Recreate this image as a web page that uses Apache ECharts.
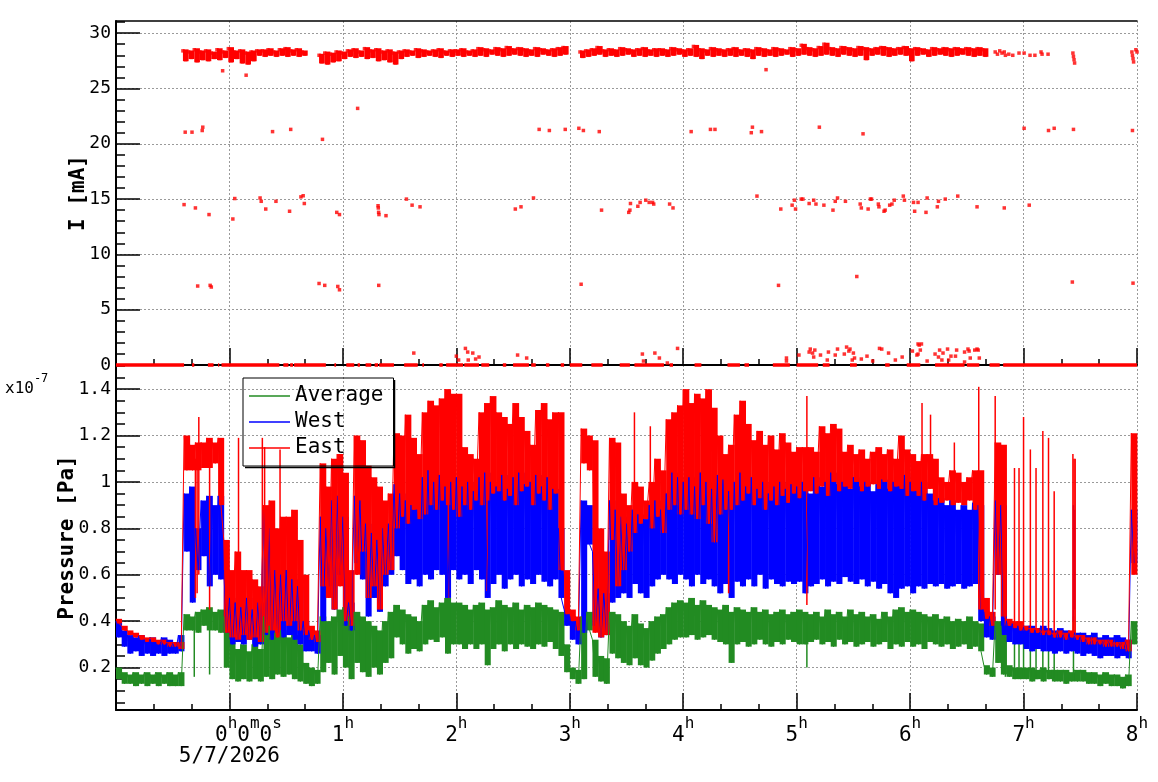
<!DOCTYPE html>
<html>
<head>
<meta charset="utf-8">
<script src="https://cdn.jsdelivr.net/npm/echarts@6/dist/echarts.min.js"></script>
<style>
  html, body { margin: 0; padding: 0; background: #fff; }
  #chart { width: 1158px; height: 782px; }
</style>
</head>
<body>
<div id="chart"></div>
<script>
// time axis in hours, 0h = 5/7/2026 00:00
var tStart = -1.0;
var binStep = 0.05;

// pressure (x1e-7 Pa), upper / lower envelope per 3-minute bin
var eastHi = [
  0.41,0.38,0.36,0.35,0.34,0.33,0.33,0.32,0.32,0.31, 0.31,0.31,1.20,1.16,1.17,1.17,1.19,1.17,1.19,0.75,
  0.62,0.70,0.62,0.62,0.58,0.55,0.90,0.92,0.80,0.85, 0.85,0.88,0.75,0.60,0.38,0.36,1.08,0.98,1.10,1.12,
  1.04,0.62,1.20,1.18,1.07,1.02,0.98,0.92,0.95,1.21, 1.20,1.29,1.19,1.12,1.30,1.35,1.33,1.36,1.40,1.38,
  1.38,1.15,1.12,1.10,1.30,1.34,1.37,1.30,1.28,1.25, 1.34,1.28,1.22,1.16,1.31,1.34,1.27,1.30,1.30,0.62,
  0.45,0.42,1.23,1.20,1.18,0.80,0.70,1.19,1.17,0.95, 0.90,1.00,0.98,0.92,1.00,1.10,1.05,1.27,1.30,1.33,
  1.40,1.34,1.38,1.36,1.40,1.32,1.20,1.12,1.16,1.29, 1.35,1.25,1.18,1.22,1.16,1.20,1.14,1.21,1.17,1.13,
  1.15,1.15,1.15,1.13,1.24,1.21,1.25,1.23,1.13,1.16, 1.12,1.14,1.10,1.13,1.15,1.12,1.14,1.10,1.20,1.14,
  1.12,1.09,1.12,1.12,1.10,1.02,1.00,1.05,1.04,1.00, 1.02,1.05,1.05,0.50,0.44,1.17,1.16,0.41,0.40,0.40,
  0.38,0.37,0.37,0.36,0.36,0.35,0.36,0.35,0.36,0.34, 0.34,0.33,0.33,0.32,0.32,0.32,0.31,0.31,0.32,1.21
];
var eastLo = [
  0.39,0.36,0.34,0.33,0.32,0.31,0.31,0.30,0.30,0.29, 0.29,0.28,1.05,1.05,1.05,1.06,1.06,1.08,0.90,0.35,
  0.33,0.32,0.34,0.32,0.33,0.31,0.35,0.36,0.33,0.40, 0.38,0.40,0.36,0.34,0.32,0.31,0.55,0.50,0.45,0.55,
  0.40,0.38,0.60,0.70,0.50,0.55,0.45,0.60,0.62,0.80, 0.85,0.82,0.88,0.84,0.86,0.90,0.88,0.92,0.90,0.88,
  0.85,0.90,0.88,0.92,0.90,0.92,0.95,0.96,0.92,0.94, 0.90,0.96,0.98,0.90,0.95,0.92,0.88,0.95,0.62,0.43,
  0.40,0.36,1.08,1.05,0.35,0.33,0.34,0.75,0.55,0.62, 0.70,0.78,0.82,0.84,0.80,0.85,0.78,0.88,0.90,0.86,
  0.88,0.86,0.84,0.90,0.82,0.74,0.86,0.88,0.88,0.90, 0.92,0.95,0.90,0.93,0.88,0.92,0.90,0.94,0.91,0.95,
  0.93,0.96,0.96,0.95,0.98,0.94,1.00,0.96,0.98,0.97, 1.00,0.96,0.98,0.99,0.97,1.00,0.96,0.98,0.97,0.94,
  0.96,0.94,0.92,0.97,0.90,0.91,0.92,0.90,0.91,0.90, 0.92,0.88,0.45,0.41,0.38,0.60,0.42,0.38,0.37,0.36,
  0.36,0.35,0.35,0.34,0.34,0.33,0.33,0.32,0.33,0.32, 0.31,0.30,0.30,0.30,0.29,0.29,0.29,0.28,0.27,0.60
];
// single narrow excursions [t, from, to]
var eastSpikes = [
  [-0.30,0.50,1.10],[-0.285,0.52,1.10],[-0.27,0.60,1.28],[-0.175,0.45,1.10],
  [0.08,0.40,1.19],[0.29,0.45,1.19],[0.31,0.50,1.15],[0.446,0.50,1.14],
  [1.93,0.50,1.00],[2.27,0.53,1.00],[3.57,0.90,1.30],[3.71,0.90,1.24],[4.40,0.52,1.00],
  [5.09,0.47,1.37],[6.105,1.00,1.34],[6.18,1.00,1.29],[6.39,1.00,1.17],
  [6.605,0.50,1.41],[6.75,0.45,1.37],[6.84,0.38,1.06],[6.92,0.38,1.06],[6.96,0.37,1.06],
  [7.0,0.36,1.28],[7.06,0.35,1.14],[7.11,0.35,1.06],[7.17,0.34,1.22],[7.22,0.34,1.19],[7.27,0.33,0.96],
  [7.435,0.33,1.12],[7.445,0.33,1.10],[7.455,0.33,1.10]
];
var westHi = [
  0.40,0.36,0.34,0.33,0.34,0.32,0.33,0.31,0.33,0.32, 0.31,0.34,0.95,0.98,0.80,0.92,0.94,0.90,0.94,0.62,
  0.50,0.48,0.46,0.50,0.45,0.48,0.88,0.80,0.62,0.60, 0.62,0.58,0.55,0.40,0.36,0.34,0.85,0.80,0.92,0.94,
  0.85,0.48,0.94,0.92,0.82,0.78,0.75,0.80,0.82,0.99, 0.95,0.92,0.90,0.88,1.02,1.05,1.00,1.03,0.98,1.00,
  1.02,0.98,1.00,0.96,1.02,1.04,1.00,0.98,1.03,0.97, 1.02,1.04,0.99,1.00,1.03,0.98,1.02,0.97,0.80,0.45,
  0.42,0.40,0.92,0.90,0.70,0.54,0.52,0.92,0.88,0.85, 0.82,0.88,0.86,0.84,0.90,0.92,0.88,0.95,1.04,1.02,
  1.00,1.02,0.98,1.04,1.00,0.97,1.03,1.01,0.96,1.00, 1.04,0.98,1.02,0.97,1.00,0.95,0.98,1.00,0.97,0.99,
  0.98,1.00,0.95,1.02,0.98,1.00,1.04,0.99,1.00,0.97, 1.02,0.98,1.00,0.96,0.99,1.01,0.97,1.00,0.98,1.03,
  1.00,0.96,1.00,0.95,0.92,0.93,0.90,0.92,0.88,0.90, 0.88,0.91,0.90,0.44,0.42,0.92,0.90,0.40,0.39,0.38,
  0.38,0.38,0.37,0.38,0.37,0.36,0.37,0.36,0.35,0.35, 0.35,0.34,0.35,0.33,0.34,0.33,0.34,0.33,0.32,0.88
];
var westLo = [
  0.33,0.29,0.26,0.27,0.25,0.26,0.25,0.26,0.25,0.26, 0.26,0.27,0.70,0.48,0.62,0.68,0.55,0.60,0.58,0.35,
  0.30,0.31,0.30,0.32,0.29,0.30,0.34,0.32,0.35,0.33, 0.34,0.32,0.30,0.27,0.27,0.26,0.40,0.55,0.45,0.60,
  0.38,0.36,0.65,0.58,0.42,0.50,0.44,0.55,0.60,0.68, 0.62,0.56,0.58,0.55,0.60,0.58,0.62,0.60,0.50,0.62,
  0.58,0.60,0.56,0.62,0.58,0.50,0.56,0.60,0.54,0.58, 0.60,0.55,0.58,0.56,0.60,0.57,0.55,0.58,0.50,0.38,
  0.32,0.30,0.35,0.73,0.38,0.33,0.34,0.48,0.50,0.52, 0.50,0.56,0.52,0.50,0.55,0.58,0.60,0.58,0.56,0.60,
  0.58,0.55,0.60,0.56,0.58,0.55,0.52,0.56,0.50,0.57, 0.55,0.58,0.55,0.60,0.54,0.58,0.56,0.55,0.57,0.56,
  0.57,0.52,0.55,0.56,0.58,0.55,0.57,0.56,0.59,0.57, 0.56,0.58,0.55,0.57,0.54,0.56,0.52,0.50,0.54,0.55,
  0.52,0.55,0.54,0.56,0.55,0.56,0.54,0.55,0.56,0.54, 0.55,0.56,0.40,0.33,0.32,0.60,0.34,0.31,0.30,0.30,
  0.28,0.27,0.28,0.27,0.27,0.26,0.27,0.26,0.27,0.26, 0.25,0.26,0.25,0.24,0.25,0.25,0.24,0.25,0.24,0.65
];
var westSpikes = [[7.44,0.40,0.90],[7.45,0.45,0.88]];
var avgHi = [
  0.20,0.18,0.17,0.18,0.17,0.18,0.17,0.18,0.17,0.18, 0.17,0.18,0.43,0.42,0.44,0.45,0.46,0.44,0.45,0.42,
  0.32,0.28,0.30,0.27,0.30,0.28,0.42,0.38,0.35,0.36, 0.33,0.34,0.30,0.22,0.20,0.19,0.42,0.40,0.42,0.45,
  0.46,0.42,0.44,0.42,0.40,0.38,0.36,0.40,0.44,0.47, 0.45,0.43,0.42,0.40,0.47,0.49,0.46,0.48,0.50,0.48,
  0.48,0.47,0.45,0.47,0.48,0.45,0.46,0.49,0.47,0.46, 0.48,0.45,0.47,0.46,0.48,0.47,0.46,0.45,0.44,0.30,
  0.20,0.19,0.42,0.44,0.32,0.25,0.24,0.44,0.43,0.40, 0.38,0.43,0.39,0.37,0.40,0.42,0.43,0.46,0.48,0.49,
  0.48,0.50,0.47,0.49,0.47,0.46,0.45,0.47,0.44,0.46, 0.45,0.44,0.46,0.44,0.45,0.43,0.44,0.45,0.43,0.44,
  0.45,0.44,0.43,0.44,0.42,0.45,0.43,0.44,0.42,0.45, 0.43,0.44,0.42,0.43,0.41,0.44,0.42,0.45,0.46,0.44,
  0.45,0.44,0.43,0.42,0.43,0.41,0.42,0.40,0.41,0.40, 0.42,0.40,0.39,0.21,0.20,0.40,0.38,0.21,0.20,0.20,
  0.20,0.20,0.19,0.20,0.19,0.19,0.19,0.19,0.18,0.19, 0.19,0.18,0.18,0.17,0.18,0.17,0.17,0.16,0.17,0.40
];
var avgLo = [
  0.15,0.13,0.13,0.12,0.13,0.12,0.13,0.12,0.13,0.12, 0.12,0.12,0.36,0.36,0.35,0.38,0.36,0.36,0.35,0.20,
  0.15,0.14,0.15,0.14,0.15,0.14,0.16,0.15,0.17,0.16, 0.17,0.15,0.14,0.13,0.12,0.13,0.18,0.22,0.17,0.25,
  0.20,0.15,0.22,0.18,0.16,0.20,0.17,0.22,0.24,0.33, 0.30,0.26,0.28,0.27,0.30,0.32,0.31,0.33,0.26,0.30,
  0.30,0.28,0.30,0.28,0.30,0.21,0.28,0.30,0.27,0.30, 0.28,0.30,0.29,0.28,0.30,0.29,0.31,0.28,0.25,0.18,
  0.15,0.13,0.15,0.36,0.16,0.14,0.13,0.26,0.24,0.22, 0.21,0.24,0.21,0.20,0.23,0.26,0.28,0.30,0.32,0.33,
  0.33,0.34,0.32,0.33,0.34,0.32,0.31,0.30,0.22,0.30, 0.31,0.29,0.30,0.32,0.30,0.29,0.31,0.30,0.32,0.31,
  0.30,0.30,0.31,0.32,0.30,0.31,0.29,0.32,0.30,0.31, 0.29,0.30,0.31,0.29,0.30,0.31,0.28,0.30,0.29,0.31,
  0.29,0.30,0.28,0.31,0.30,0.29,0.30,0.28,0.29,0.30, 0.28,0.29,0.27,0.17,0.16,0.22,0.17,0.16,0.15,0.15,
  0.15,0.14,0.15,0.14,0.15,0.14,0.14,0.13,0.14,0.14, 0.14,0.13,0.13,0.12,0.13,0.12,0.12,0.11,0.12,0.30
];
var avgSpikes = [
  [-0.31,0.16,0.40],[-0.175,0.17,0.40],[5.09,0.20,0.40],
  [6.84,0.16,0.35],[6.92,0.16,0.33],[6.96,0.16,0.34],[7.0,0.16,0.36],[7.06,0.16,0.34],
  [7.11,0.15,0.32],[7.17,0.15,0.36],[7.22,0.15,0.34],[7.27,0.15,0.30],[7.44,0.15,0.42]
];

// beam current (mA): main ~28 mA band, per 3-minute bin, null = no beam
var bandStart = -0.41;
var bandHi = [
  28.4,28.3,28.5,28.3,28.4,28.2,28.5,28.3, 28.6,28.3,28.4,28.2,28.3, 28.4,
  28.4,28.5,28.3,28.5,28.6,28.4,28.5,28.3, null,null,
  28.0,28.2,28.1,28.3,28.2, 28.4,28.5,28.3,28.6,28.4,28.5,28.3,28.4,28.2,28.3,
  28.4,28.3,28.5,28.4,28.3,28.4,28.5,28.3,28.4,28.4, 28.5,28.3,28.4,28.6,28.5,28.4,28.6,28.5,28.7,28.5,
  28.6,28.5,28.4,28.6,28.5,28.4,28.5,28.6,28.7, null,null,
  28.3,28.4,28.5,28.7,
  28.4,28.5,28.4,28.6,28.5,28.4,28.5,28.6,28.4,28.5,
  28.5,28.4,28.6,28.5,28.4,28.5,28.8,28.5,28.4,28.6,
  28.5,28.4,28.5,28.6,28.4,28.5,28.4,28.6,28.5,28.4,
  28.6,28.5,28.4,28.6,28.5,28.9,28.6,28.5,28.7,29.0,
  28.6,28.5,28.7,28.6,28.5,28.7,28.6,28.5,28.6,28.7,
  28.6,28.5,28.6,28.7,28.5,28.6,28.5,28.4,28.6,28.5,
  28.6,28.5,28.6,28.5,28.6,28.5,28.6,28.5
];
var bandLo = [
  27.6,27.8,27.5,27.7,27.6,27.8,27.7,27.9, 27.5,27.8,27.4,27.3,27.6, 28.1,
  28.0,28.1,28.0,28.1,28.0,28.1,28.0,28.1, null,null,
  27.4,27.3,27.5,27.6,27.8, 28.0,27.9,28.0,27.8,27.9,27.6,27.7,27.5,27.3,27.8,
  28.0,28.1,27.9,28.0,28.1,28.0,27.9,28.1,28.0,28.1, 28.0,28.1,28.0,28.1,28.0,28.2,28.1,28.0,28.1,28.2,
  28.1,28.0,28.1,28.0,28.2,28.1,28.0,28.1,28.2, null,null,
  27.9,28.0,28.1,28.2,
  28.0,28.1,28.0,28.1,28.2,28.0,28.1,28.0,28.1,28.0,
  28.1,28.0,28.1,28.2,28.0,28.1,28.0,27.8,28.1,28.0,
  28.1,28.0,28.1,28.0,28.1,28.0,27.8,28.1,28.0,28.1,
  28.0,28.1,28.2,28.0,28.1,28.2,28.1,28.0,28.1,28.2,
  28.1,28.0,28.2,28.1,28.0,28.1,27.7,28.1,28.2,28.1,
  28.0,28.1,28.2,28.1,27.6,28.1,28.2,28.0,28.1,28.2,
  28.1,28.0,28.1,28.2,28.1,28.0,28.1,28.0
];

// isolated current readings [t (h), I (mA)]
var currentPoints = [
  [0.147,26.2],[-0.06,26.6],[1.13,23.2],[4.73,26.7],
  [-0.39,21.05],[-0.33,21.05],[-0.24,21.2],[-0.235,21.5],[0.38,21.1],[0.54,21.3],[0.82,20.4],
  [2.73,21.3],[2.82,21.2],[2.96,21.3],[3.08,21.4],[3.12,21.2],[3.26,21.1],[4.07,21.1],[4.24,21.3],
  [4.28,21.3],[4.60,21.0],[4.61,21.5],[4.69,21.1],[5.20,21.5],[5.585,20.9],[7.005,21.4],[7.22,21.2],
  [7.27,21.4],[7.44,21.3],[7.96,21.2],
  [-0.40,14.5],[-0.30,14.2],[-0.18,13.6],[0.03,13.2],[0.047,15.05],[0.27,15.1],[0.28,14.8],[0.32,14.1],
  [0.41,14.8],[0.53,13.9],[0.63,15.2],[0.65,15.3],[0.66,14.6],[0.946,13.8],[0.97,13.6],[1.31,14.4],
  [1.312,14.2],[1.315,13.8],[1.318,13.6],[1.38,13.5],[1.56,15.0],[1.61,14.45],[1.68,14.3],[2.52,14.1],
  [2.57,14.3],[2.68,15.1],[3.28,14.0],[3.52,13.8],[3.53,14.0],[3.535,14.6],[3.60,14.35],[3.62,14.7],
  [3.67,14.9],[3.70,14.7],[3.73,14.7],[3.74,14.55],[3.88,14.55],[3.91,14.2],[4.65,15.27],
  [4.86,14.1],[4.96,14.45],[4.98,14.9],[4.99,14.1],[5.04,15.0],[5.055,15.0],[5.11,14.6],[5.15,14.9],
  [5.17,14.55],[5.24,14.45],[5.32,14.0],[5.34,14.8],[5.36,15.1],[5.43,14.8],[5.56,14.55],[5.57,14.2],
  [5.63,14.1],[5.65,15.0],[5.66,15.0],[5.72,14.55],[5.725,14.3],[5.77,13.9],[5.78,14.0],[5.82,14.45],
  [5.84,14.55],[5.86,14.9],[5.94,15.27],[5.95,14.9],[6.03,14.7],[6.04,13.9],[6.07,14.7],[6.14,13.8],
  [6.15,15.1],[6.24,14.3],[6.25,14.8],[6.31,15.0],[6.42,15.27],[6.59,14.3],[6.83,14.2],[7.05,14.45],
  [-0.28,7.14],[-0.17,7.2],[-0.16,7.05],[0.79,7.37],[0.84,7.2],[0.955,7.1],[0.97,6.8],[1.316,7.2],
  [3.10,7.3],[4.84,7.2],[5.53,8.0],[7.43,7.5],[7.965,7.4],
  [1.625,1.08],[2.0,0.8],[2.02,0.45],[2.08,1.5],[2.10,1.17],[2.105,0.45],[2.145,1.08],[2.17,0.54],
  [2.20,0.72],[2.54,0.9],[2.62,0.63],[3.64,0.99],[3.65,0.36],[3.75,1.08],[3.79,0.63],[3.86,0.18],
  [3.95,1.5],[4.91,0.63],[4.91,0.36],[5.02,0.9],[5.12,1.44],[5.11,1.17],[5.14,1.08],[5.16,1.35],
  [5.15,0.72],[5.21,0.9],[5.28,1.17],[5.27,0.45],[5.34,0.9],[5.36,1.44],[5.42,0.99],[5.44,1.62],
  [5.46,1.26],[5.47,1.44],[5.50,1.08],[5.49,0.45],[5.51,0.63],[5.57,0.54],[5.62,0.8],[5.67,0.36],
  [5.73,1.5],[5.75,1.44],[5.81,1.08],[5.87,0.45],[5.93,0.72],[6.02,1.26],[6.07,1.9],[6.10,1.9],
  [6.08,1.8],[6.06,0.9],[6.07,0.99],[6.09,1.35],[6.15,0.36],[6.22,0.99],[6.26,1.35],[6.29,1.08],
  [6.25,0.72],[6.28,0.45],[6.33,1.44],[6.34,0.45],[6.36,0.8],[6.40,0.8],[6.41,1.35],[6.48,1.17],
  [6.48,0.27],[6.51,1.44],[6.52,1.26],[6.53,0.63],[6.57,1.35],[6.59,1.44],[6.60,1.35],[6.61,0.63],
  [6.75,28.3],[6.77,28.1],[6.79,28.4],[6.81,28.2],[6.83,28.3],[6.84,28.0],[6.87,28.1],[6.905,28.0],
  [6.96,28.2],[7.005,28.2],[7.057,28.0],[7.10,28.0],[7.154,28.3],[7.163,28.1],[7.216,28.1],
  [7.435,28.2],[7.44,27.9],[7.445,27.6],[7.45,27.3],[7.955,28.3],[7.96,28.0],[7.965,27.7],[7.97,27.4],
  [7.99,28.5],[8.0,28.3]
];

// stretches where the current read 0 mA [from, to] (h)
var zeroRuns = [
  [-1.0,-0.40],[-0.33,-0.31],[-0.19,-0.14],[-0.10,-0.09],[-0.07,0.44],[0.475,0.52],[0.535,0.56],
  [0.57,0.85],[0.925,0.94],[1.03,1.10],[1.13,1.15],[1.20,1.25],[1.28,1.31],[1.32,1.45],[1.54,1.66],
  [1.70,1.715],[1.85,1.88],[1.91,2.06],[2.07,2.20],[2.22,2.29],[2.41,2.44],[2.50,2.64],[2.66,2.70],
  [2.79,2.82],[2.92,2.95],[3.0,3.11],[3.19,3.29],[3.44,3.53],[3.57,3.83],[3.88,3.91],[4.10,4.16],
  [4.39,4.50],[4.54,4.58],[4.79,4.94],[5.0,5.19],[5.23,5.29],[5.47,5.53],[5.78,5.82],[5.97,6.09],
  [6.22,6.48],[6.50,6.61],[6.70,6.79],[6.82,8.0]
];

var currentTicks = [0, 5, 10, 15, 20, 25, 30];
var currentMinorTicks = [1,2,3,4,6,7,8,9,11,12,13,14,16,17,18,19,21,22,23,24,26,27,28,29,31];
var pressureTicks = [0.2, 0.4, 0.6, 0.8, 1, 1.2, 1.4];
var pressureMinorTicks = [0.05,0.1,0.15,0.25,0.3,0.35,0.45,0.5,0.55,0.65,0.7,0.75,0.85,0.9,0.95,
  1.05,1.1,1.15,1.25,1.3,1.35,1.45,1.5];

var mono = 'DejaVu Sans Mono';

// zig-zag through each bin: top of the bin, then its bottom
function envelope(hi, lo) {
  var out = [];
  for (var i = 0; i < hi.length; i++) {
    var t = tStart + i * binStep;
    out.push([t, hi[i]]);
    out.push([t + binStep / 2, lo[i]]);
  }
  return out;
}

// [t, lo, hi] per bin
function binRanges(hi, lo, start) {
  var out = [];
  for (var i = 0; i < hi.length; i++) {
    if (hi[i] == null) continue;
    out.push([start + i * binStep, lo[i], hi[i]]);
  }
  return out;
}

function bandPoints() {
  var out = [];
  for (var k = 0; k < bandHi.length; k++) {
    if (bandHi[k] == null) continue;
    var t = bandStart + k * binStep;
    out.push([t, bandHi[k]]);
    out.push([t + binStep / 2, bandLo[k]]);
  }
  return out;
}

function zeroLine() {
  var out = [];
  for (var i = 0; i < zeroRuns.length; i++) {
    out.push([zeroRuns[i][0], 0]);
    out.push([zeroRuns[i][1], 0]);
    out.push([zeroRuns[i][1] + 0.001, '-']);
  }
  return out;
}

// filled block spanning one bin, from its lowest to its highest reading
function renderBin(params, api) {
  var t = api.value(0);
  var a = api.coord([t, api.value(2)]);
  var b = api.coord([t + binStep, api.value(1)]);
  return {
    type: 'rect',
    shape: { x: a[0], y: a[1], width: b[0] - a[0] + 0.4, height: Math.max(1, b[1] - a[1]) },
    style: { fill: api.visual('color') }
  };
}

// thin vertical excursion
function renderSpike(params, api) {
  var top = api.coord([api.value(0), api.value(2)]);
  var bottom = api.coord([api.value(0), api.value(1)]);
  return {
    type: 'rect',
    shape: { x: top[0] - 0.75, y: top[1], width: 1.5, height: bottom[1] - top[1] },
    style: { fill: api.visual('color') }
  };
}

function renderRibbon(params, api) {
  var t = api.value(0);
  var a = api.coord([t, api.value(2)]);
  var b = api.coord([t + binStep, api.value(1)]);
  return {
    type: 'rect',
    shape: { x: a[0], y: a[1] - 1.5, width: b[0] - a[0], height: b[1] - a[1] + 3 },
    style: { fill: api.visual('color') }
  };
}

var gridLine = { show: true, lineStyle: { color: '#9a9a9a', type: [2, 2], width: 1 } };
var blackLine = { color: '#000', width: 2 };

function timeAxis(gridIndex, withLabels) {
  return {
    gridIndex: gridIndex,
    type: 'value',
    min: -1,
    max: 8,
    interval: 1,
    axisLine: { onZero: false, lineStyle: blackLine },
    axisTick: { inside: true, length: 17, lineStyle: { color: '#000', width: 1.5 } },
    minorTick: { show: true, splitNumber: 3, length: 6, lineStyle: { color: '#000', width: 1.5 } },
    splitLine: gridLine,
    axisLabel: withLabels ? {
      margin: 6,
      color: '#000',
      formatter: function (v) {
        if (v < 0) return '';
        if (v === 0) return '{p|}{n|0}{s|h}{n|0}{s|m}{n|0}{s|s}\n{d|5/7/2026}';
        return '{n|' + v + '}{s|h}';
      },
      rich: {
        n: { fontFamily: mono, fontSize: 21, color: '#000', lineHeight: 30, verticalAlign: 'bottom' },
        s: { fontFamily: mono, fontSize: 16, color: '#000', lineHeight: 18, verticalAlign: 'top' },
        d: { fontFamily: mono, fontSize: 21, color: '#000', lineHeight: 20, verticalAlign: 'top' },
        p: { width: 38 }
      }
    } : { show: false }
  };
}

function valueAxes(gridIndex, min, max, ticks, minor, name, gap) {
  return [{
    gridIndex: gridIndex,
    type: 'value',
    position: 'left',
    min: min,
    max: max,
    name: name,
    nameLocation: 'middle',
    nameGap: gap,
    nameMoveOverlap: false,
    nameTextStyle: { fontFamily: mono, fontWeight: 'bold', fontSize: 21, color: '#000' },
    axisLine: { show: true, onZero: false, lineStyle: blackLine },
    axisTick: { inside: true, length: 24, customValues: ticks, lineStyle: { color: '#000', width: 1.5 } },
    axisLabel: { customValues: ticks, fontFamily: mono, fontSize: 18, color: '#000', margin: 5 },
    splitLine: gridLine
  }, {
    gridIndex: gridIndex,
    type: 'value',
    position: 'left',
    min: min,
    max: max,
    axisLine: { show: false, onZero: false },
    axisTick: { inside: true, length: 9, customValues: minor, lineStyle: { color: '#000', width: 1.5 } },
    axisLabel: { show: false },
    splitLine: { show: false }
  }];
}

function pressureSeries(name, color, hi, lo, spikes) {
  return [{
    name: name + ' range', type: 'custom', xAxisIndex: 1, yAxisIndex: 2,
    data: binRanges(hi, lo, tStart), renderItem: renderBin,
    itemStyle: { color: color }, encode: { x: 0, y: [1, 2] }
  }, {
    name: name + ' spikes', type: 'custom', xAxisIndex: 1, yAxisIndex: 2,
    data: spikes, renderItem: renderSpike,
    itemStyle: { color: color }, encode: { x: 0, y: [1, 2] }
  }, {
    name: name, type: 'line', xAxisIndex: 1, yAxisIndex: 2,
    data: envelope(hi, lo), showSymbol: false,
    color: color, lineStyle: { color: color, width: 1 }
  }];
}

var chart = echarts.init(document.getElementById('chart'), null, { renderer: 'canvas' });

var option = {
  animation: false,
  backgroundColor: '#fff',
  grid: [
    { left: 116, top: 21, width: 1021, height: 344 },
    { left: 116, top: 365, width: 1021, height: 345 }
  ],
  xAxis: [
    timeAxis(0, false),
    timeAxis(1, true),
    {
      gridIndex: 0, type: 'value', position: 'top', min: -1, max: 8,
      axisLine: { onZero: false, lineStyle: { color: '#000', width: 1.5 } },
      axisTick: { show: false }, axisLabel: { show: false }, splitLine: { show: false }
    }
  ],
  yAxis: valueAxes(0, 0, 31.1, currentTicks, currentMinorTicks, 'I [mA]', 27)
    .concat(valueAxes(1, 0.017, 1.504, pressureTicks, pressureMinorTicks, 'Pressure [Pa]', 38)),
  legend: {
    data: ['Average', 'West', 'East'],
    orient: 'vertical',
    left: 243,
    top: 378,
    padding: [5, 10, 5, 6],
    itemGap: 0,
    itemWidth: 41,
    itemHeight: 1.5,
    icon: 'rect',
    borderColor: '#000',
    borderWidth: 1,
    textStyle: { fontFamily: mono, fontSize: 21, color: '#000', lineHeight: 26 }
  },
  graphic: [
    {
      type: 'text', left: 5, top: 373,
      style: {
        text: '{a|x10}{b|-7}',
        rich: {
          a: { fontFamily: mono, fontSize: 16, fill: '#000', lineHeight: 24, verticalAlign: 'bottom' },
          b: { fontFamily: mono, fontSize: 12, fill: '#000', lineHeight: 12, verticalAlign: 'top' }
        }
      }
    },
    {
      type: 'polyline', silent: true, z: 100,
      shape: { points: [[245, 467.5], [394.5, 467.5], [394.5, 380]] },
      style: { stroke: '#000', lineWidth: 1.5, fill: null }
    }
  ],
  series: [
    {
      name: 'I zero', type: 'line', xAxisIndex: 0, yAxisIndex: 0,
      data: zeroLine(), showSymbol: false, clip: false, connectNulls: false,
      lineStyle: { color: '#ff0000', width: 3.5 }
    },
    {
      name: 'I ribbon', type: 'custom', xAxisIndex: 0, yAxisIndex: 0,
      data: binRanges(bandHi, bandLo, bandStart), renderItem: renderRibbon,
      itemStyle: { color: '#ff0000' }, encode: { x: 0, y: [1, 2] }
    },
    {
      name: 'I band', type: 'scatter', xAxisIndex: 0, yAxisIndex: 0,
      data: bandPoints(), symbol: 'rect', symbolSize: 3.5,
      itemStyle: { color: '#ff0000' }
    },
    {
      name: 'I points', type: 'scatter', xAxisIndex: 0, yAxisIndex: 0,
      data: currentPoints, symbol: 'rect', symbolSize: 3.5,
      itemStyle: { color: '#ff0000' }
    }
  ]
    .concat(pressureSeries('Average', '#228b22', avgHi, avgLo, avgSpikes))
    .concat(pressureSeries('West', '#0000ff', westHi, westLo, westSpikes))
    .concat(pressureSeries('East', '#ff0000', eastHi, eastLo, eastSpikes))
};

chart.setOption(option);
</script>
</body>
</html>
